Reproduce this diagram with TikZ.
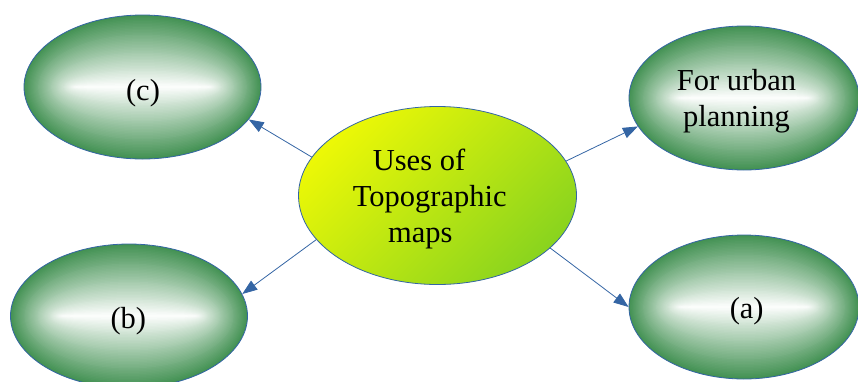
\documentclass[tikz,border=0pt]{standalone}
\usepackage{fontspec}
\setmainfont{Liberation Serif}
\usetikzlibrary{shapes.geometric,arrows.meta,calc}
\definecolor{lineblue}{RGB}{52,101,164}
\definecolor{leafgreen}{RGB}{66,145,82}
\definecolor{centyellow}{RGB}{236,248,6}
\definecolor{centgreen}{RGB}{138,212,30}
\tikzset{
  leaf/.style={ellipse, draw=lineblue, line width=0.8pt, inner sep=0pt,
    minimum height=144pt,
    path picture={
      \pgfpointdiff{\pgfpointanchor{path picture bounding box}{south west}}{\pgfpointanchor{path picture bounding box}{north east}}
      \pgfgetlastxy{\ww}{\hh}
      \foreach \i in {0,...,47}{
        \pgfmathsetmacro\ry{\hh/2-\i*\hh/2/48}
        \pgfmathsetmacro\rx{\ww/2-0.72*\i*\hh/2/48}
        \pgfmathtruncatemacro\pc{100-100*\i/48}
        \fill[leafgreen!\pc!white] (path picture bounding box.center) ellipse [x radius=\rx pt, y radius=\ry pt];
      }
    }},
  hub/.style={ellipse, draw=lineblue, line width=0.8pt, inner sep=0pt,
    minimum width=278pt, minimum height=178pt,
    top color=centyellow, bottom color=centgreen, shading angle=45},
  txt/.style={inner sep=0pt, align=center, font=\fontsize{30.5}{36}\selectfont},
  arr/.style={draw=lineblue, line width=0.8pt, -{Triangle[length=15pt,width=11pt]}}
}
\begin{document}
\begin{tikzpicture}[x=1pt,y=-1pt]
\useasboundingbox (0,0) rectangle (858,381);
\node[hub] (main) at (437.5,195.5) {};
\node[leaf, minimum width=237pt] (c) at (142.5,87) {};
\node[leaf, minimum width=237pt] (b) at (129,316) {};
\node[leaf, minimum width=230pt] (urban) at (744,98) {};
\node[leaf, minimum width=230pt] (a) at (744,307) {};
\node[txt] (maintext) at (429.7,199.4) {Uses of\hspace*{21.4pt}\\Topographic\\maps\hspace*{18.8pt}};
\node[txt] (ctext) at (143,93) {(c)};
\node[txt] (btext) at (128.3,321.5) {(b)};
\node[txt] (urbantext) at (736.5,101.4) {For urban\\planning};
\node[txt] (atext) at (746.7,311) {(a)};
\draw[arr] (main.163.2) -- (c.-17.4);
\draw[arr] (main.200.3) -- (b.11);
\draw[arr] (main.15.3) -- (urban.195);
\draw[arr] (main.-25.6) -- (a.180);
\end{tikzpicture}
\end{document}
